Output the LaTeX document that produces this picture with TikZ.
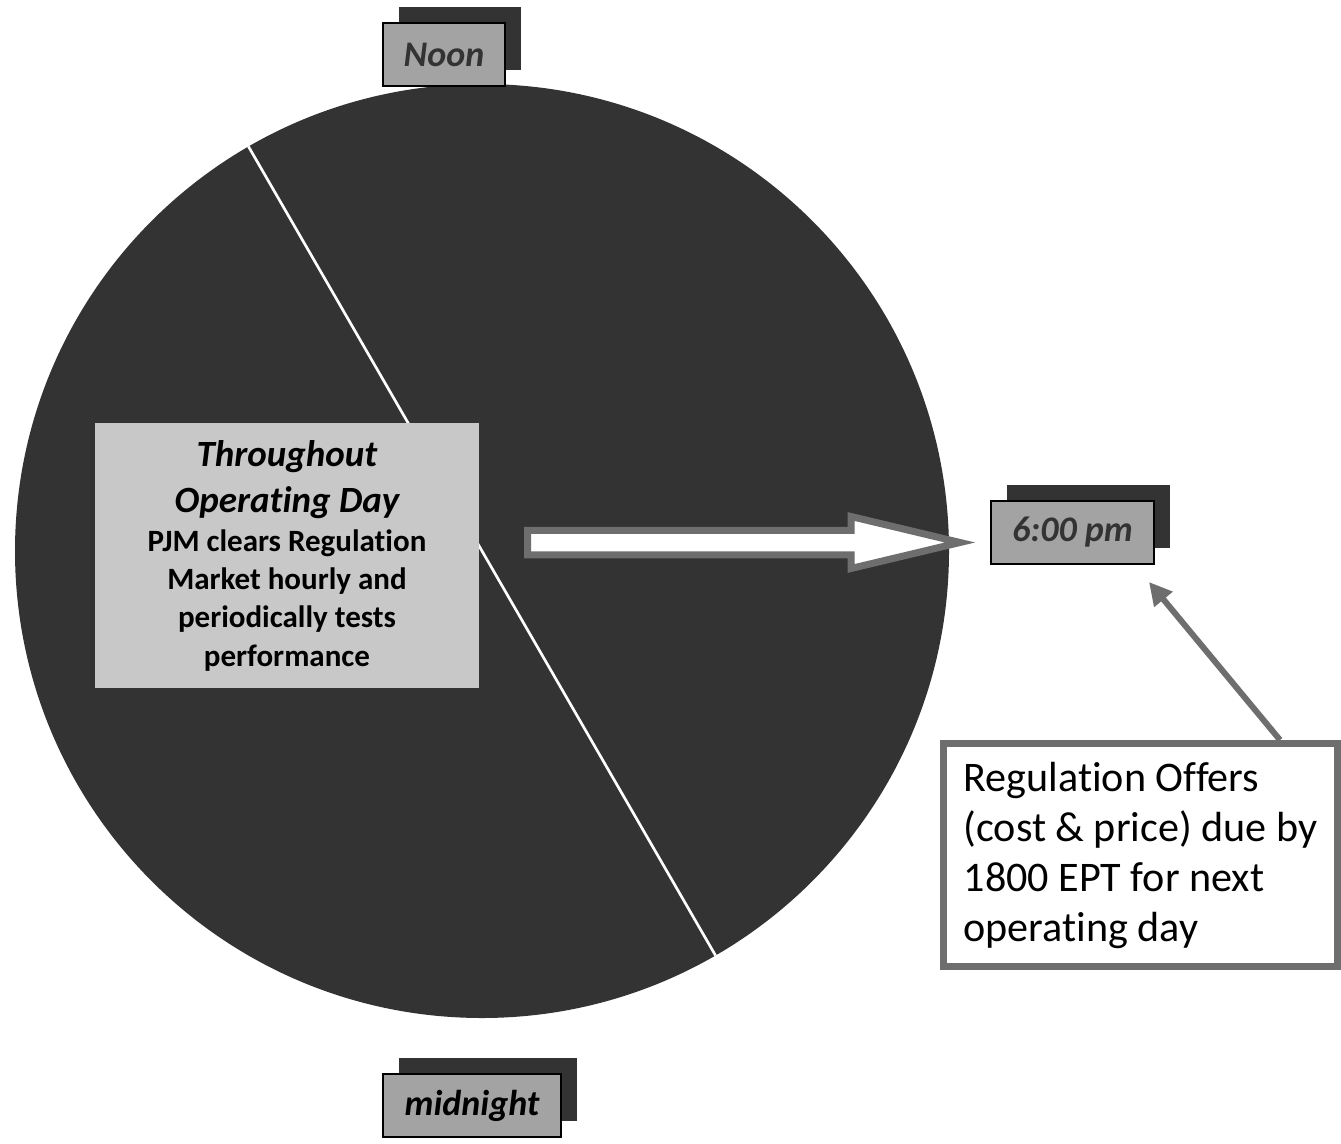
\documentclass[tikz,border=0pt]{standalone}
\usepackage{fontspec}
\setmainfont{Carlito}[Ligatures=NoCommon]
\usetikzlibrary{arrows.meta,shadows}
\definecolor{dialgray}{HTML}{333333}
\definecolor{tagfill}{HTML}{A3A3A3}
\definecolor{notefill}{HTML}{C8C8C8}
\definecolor{edgegray}{HTML}{6E6E6E}
\tikzset{
  timetag/.style={draw=black, line width=1.5pt, fill=tagfill,
    minimum height=47.25pt, inner sep=0pt,
    font=\fontsize{27pt}{32pt}\selectfont\bfseries\itshape,
    general shadow={fill=dialgray, shadow xshift=12pt, shadow yshift=12pt}},
  notebox/.style={fill=notefill, inner sep=0pt},
  offerbox/.style={draw=edgegray, line width=5.25pt, fill=white, inner sep=0pt,
    align=left, font=\fontsize{31.6pt}{37.5pt}\selectfont},
  pointer/.style={draw=edgegray, line width=4.5pt,
    -{Triangle[length=17pt,width=17pt]}},
  blockarrow/.style={draw=edgegray, line width=5.25pt, fill=white, miter limit=10},
}
\begin{document}
\begin{tikzpicture}[x=0.75pt,y=-0.75pt]
\useasboundingbox (0,0) rectangle (1341,1144);

% clock face split by the operating-day diameter
\node[circle, fill=dialgray, minimum size=700.5pt, inner sep=0pt] (dial) at (482,551) {};
\draw[white, line width=2pt] (dial.120.7) -- (dial.300.7);

% description of the operating day
\node[notebox, minimum width=288pt, minimum height=198.75pt] (note) at (287,555.5)
  {\parbox{288pt}{\centering\bfseries
   \fontsize{27.75pt}{35pt}\selectfont\itshape Throughout\\Operating Day\par
   \fontsize{23.25pt}{28.75pt}\selectfont\upshape PJM clears Regulation\\Market hourly and\\periodically tests\\performance\par}};

% block arrow towards the 6:00 pm mark
\draw[blockarrow] (527.5,530.25) -- (851,530.25) -- (851,516.5) -- (960,542.5)
  -- (851,568.5) -- (851,554.75) -- (527.5,554.75) -- cycle;

% time marks
\node[timetag, minimum width=91.5pt, text=dialgray] (noon) at (444,54.5) {Noon};
\node[timetag, minimum width=122.25pt, text=dialgray] (six) at (1072.5,532.5) {6:00 pm};
\node[timetag, minimum width=133.5pt, text=black] (midnight) at (472,1105.5) {midnight};

% offer deadline note
\node[offerbox, minimum width=295.5pt, minimum height=167.25pt] (offers) at (1140.5,855)
  {Regulation Offers\\(cost \& price) due by\\1800 EPT for next\\operating day};

\draw[pointer] ([xshift=-45.75pt]offers.north east) -- ([xshift=-4.5pt,yshift=-12.75pt]six.south east);
\end{tikzpicture}
\end{document}
